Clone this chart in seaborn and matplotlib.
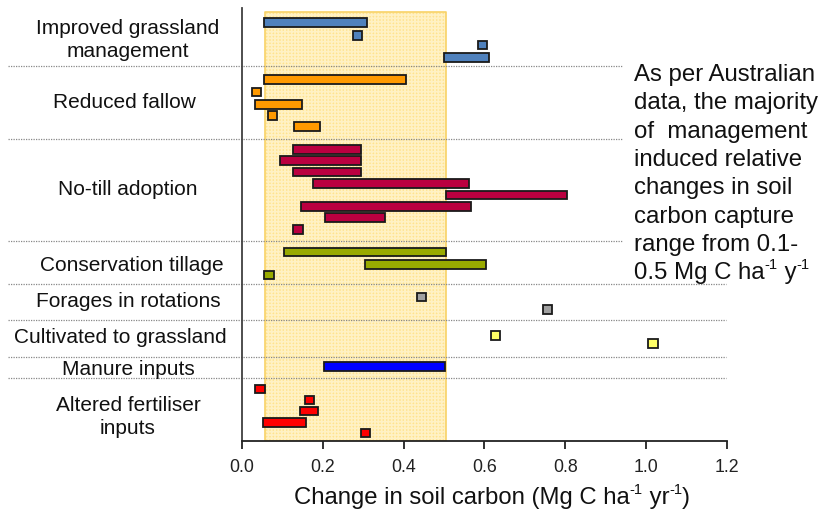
import matplotlib
matplotlib.use("Agg")
import matplotlib.pyplot as plt
import matplotlib.transforms as mtransforms
from matplotlib.lines import Line2D
import seaborn as sns

# ---- data -------------------------------------------------------------
practices = [
    "Improved grassland\nmanagement",
    "Reduced fallow",
    "No-till adoption",
    "Conservation tillage",
    "Forages in rotations",
    "Cultivated to grassland",
    "Manure inputs",
    "Altered fertiliser\ninputs",
]
practice_colors = ["#4F81BD", "#FF9900", "#BA0040", "#99AA00",
                   "#A0A0A0", "#FFFF66", "#0000FF", "#FF0000"]

# each study: practice index, low and high change in soil carbon, row position
study_practice = [0, 0, 0, 0,
                  1, 1, 1, 1, 1,
                  2, 2, 2, 2, 2, 2, 2, 2,
                  3, 3, 3,
                  4, 4,
                  5, 5,
                  6,
                  7, 7, 7, 7, 7]
study_low = [0.055, 0.276, 0.584, 0.501,
             0.055, 0.025, 0.032, 0.065, 0.129,
             0.126, 0.095, 0.127, 0.176, 0.506, 0.146, 0.206, 0.127,
             0.105, 0.304, 0.055,
             0.433, 0.745,
             0.616, 1.006,
             0.204,
             0.033, 0.156, 0.144, 0.053, 0.294]
study_high = [0.309, 0.298, 0.607, 0.611,
              0.406, 0.048, 0.148, 0.087, 0.193,
              0.294, 0.295, 0.295, 0.562, 0.805, 0.568, 0.354, 0.150,
              0.506, 0.603, 0.078,
              0.456, 0.768,
              0.639, 1.029,
              0.503,
              0.056, 0.179, 0.187, 0.158, 0.317]
study_row = [1.23, 2.31, 3.08, 4.10,
             5.96, 7.00, 8.02, 8.98, 9.88,
             11.81, 12.73, 13.68, 14.64, 15.58, 16.56, 17.48, 18.46,
             20.33, 21.35, 22.25,
             24.08, 25.10,
             27.27, 27.96,
             29.85,
             31.75, 32.67, 33.58, 34.53, 35.43]

# practice label rows and group separators
label_rows = [2.67, 7.9, 15.1, 21.5, 24.5, 27.5, 30.1, 34.1]
label_x = [128, 124, 128, 132, 128, 120, 128, 128]
separator_rows = [4.83, 10.89, 19.42, 23.0, 26.03, 29.08, 30.86]
separator_end = [622, 622, 622, 726, 726, 726, 726]

# typical range of change in soil carbon (shaded band)
typical_range = (0.057, 0.505)

x_ticks = [0.0, 0.2, 0.4, 0.6, 0.8, 1.0, 1.2]

# axis title and side note; units are split into (text, is_superscript) pieces
x_title = [("Change in soil carbon (Mg C ha", False), ("-1", True),
           (" yr", False), ("-1", True), (")", False)]
note_lines = ["As per Australian", "data, the majority", "of  management",
              "induced relative", "changes in soil", "carbon capture",
              "range from 0.1-"]
note_units = [("0.5 Mg C ha", False), ("-1", True), (" y", False), ("-1", True)]

# ---- style ------------------------------------------------------------
sns.set_theme(style="white")
plt.rcParams["font.family"] = ["Liberation Sans", "DejaVu Sans"]
plt.rcParams["hatch.linewidth"] = 1.2

W, H = 819, 512
fig = plt.figure(figsize=(W / 100, H / 100), dpi=100)
renderer = fig.canvas.get_renderer()
ax = fig.add_axes([242 / W, 1 - 440.7 / H, (726.7 - 242) / W, (440.7 - 8) / H])

y_top, y_bottom = 0.0, 36.06
ax.set_xlim(0, 1.2)
ax.set_ylim(y_bottom, y_top)

# shaded typical range: solid fill, fine light grid, and a soft border
band_y = [0.33, y_bottom]
ax.fill_betweenx(band_y, typical_range[0], typical_range[1],
                 facecolor="#FFE38E", edgecolor="none", linewidth=0, zorder=0)
ax.fill_betweenx(band_y, typical_range[0], typical_range[1],
                 facecolor="none", edgecolor="#FFF1C4", linewidth=0,
                 hatch="+++++", zorder=0.1)
ax.fill_betweenx(band_y, typical_range[0], typical_range[1],
                 facecolor="none", edgecolor="#F8D266", linewidth=1.2,
                 zorder=0.2)

# range bars
colors = [practice_colors[p] for p in study_practice]
widths = [h - l for l, h in zip(study_low, study_high)]
ax.barh(study_row, widths, left=study_low, height=0.72,
        color=colors, edgecolor="#1a1a1a", linewidth=1.3, zorder=3)

# axes styling
for side in ["top", "right"]:
    ax.spines[side].set_visible(False)
ax.spines["left"].set_color("#404040")
ax.spines["left"].set_linewidth(1.3)
ax.spines["bottom"].set_color("#222222")
ax.spines["bottom"].set_linewidth(1.3)
ax.set_yticks([])
ax.set_xticks(x_ticks)
ax.set_xticklabels([f"{t:.1f}" for t in x_ticks])
ax.tick_params(axis="x", bottom=True, direction="out", length=6, width=1.3,
               color="#222222", labelsize=12.8, labelcolor="#222222", pad=7)


def draw_pieces(pieces, x_px, base_px, size, center=False):
    """Draw text pieces on one baseline, superscripts smaller and raised."""
    texts = []
    cursor = 0.0
    for piece, is_sup in pieces:
        fs = size * 0.62 if is_sup else size
        rise = size * 0.42 if is_sup else 0
        t = fig.text(0, 1 - base_px / H, piece, fontsize=fs, color="#111111",
                     ha="left", va="baseline",
                     transform=mtransforms.offset_copy(
                         fig.transFigure, fig=fig, x=0, y=rise, units="points"))
        texts.append((t, cursor))
        cursor += t.get_window_extent(renderer).width
    start = x_px - cursor / 2 if center else x_px
    for t, off in texts:
        t.set_x((start + off) / W)


# axis title
draw_pieces(x_title, 492, 504, 17.2, center=True)

# practice labels and separators
trans = mtransforms.blended_transform_factory(fig.transFigure, ax.transData)
for name, row, xc in zip(practices, label_rows, label_x):
    ax.text(xc / W, row, name, transform=trans, ha="center", va="center",
            fontsize=15, color="#111111", linespacing=1.25)
for row, xe in zip(separator_rows, separator_end):
    ax.add_line(Line2D([8 / W, xe / W], [row, row], transform=trans,
                       color="#888888", linestyle=(0, (1, 1)), linewidth=0.9,
                       clip_on=False, zorder=1))

# side note, one line at a time
note_size = 17.3
first_baseline, pitch = 81, 28.3
for i, line in enumerate(note_lines):
    fig.text(634 / W, 1 - (first_baseline + i * pitch) / H, line,
             ha="left", va="baseline", fontsize=note_size, color="#111111")
draw_pieces(note_units, 634, first_baseline + len(note_lines) * pitch, note_size)

fig.savefig("out.png", dpi=100)
